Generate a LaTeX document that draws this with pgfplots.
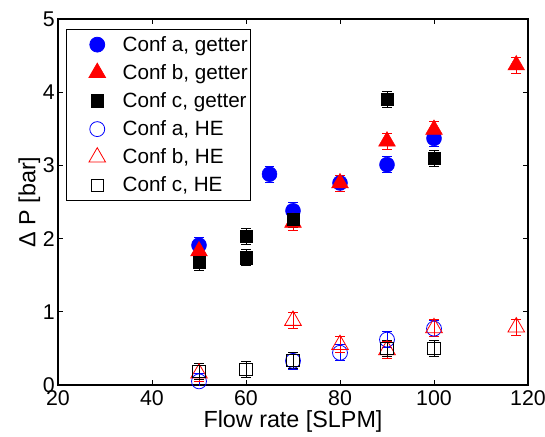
\documentclass[border=0pt]{standalone}
\usepackage{pgfplots}
\pgfplotsset{compat=1.18}
\usepackage{fontspec}
\setmainfont{Liberation Sans}
\begin{document}
\begin{tikzpicture}
\begin{axis}[
  scale only axis,
  width=352.5pt, height=274.5pt,
  xmin=20, xmax=120, ymin=0, ymax=5,
  xtick={20,40,60,80,100,120},
  ytick={0,1,2,3,4,5},
  tick align=inside,
  major tick length=3.5pt,
  axis line style={line width=0.9pt},
  every tick/.style={black, line width=0.6pt},
  /pgf/number format/assume math mode=true,
  tick label style={font=\fontsize{16}{18}\selectfont},
  xticklabel style={yshift=-1pt},
  yticklabel style={xshift=1pt},
  label style={font=\fontsize{17.5}{19}\selectfont},
  xlabel={Flow rate [SLPM]},
  ylabel={Δ P [bar]},
  xlabel style={yshift=1.5pt, inner sep=1pt},
  ylabel style={yshift=-5pt},
  legend style={at={(0.017,0.973)}, anchor=north west, font=\fontsize{15.5}{17}\selectfont,
    draw=black, line width=0.9pt, row sep=4.4pt, inner xsep=0pt, inner ysep=3pt,
    cells={anchor=west}},
  legend cell align=left,
  legend image code/.code={\path[draw=none,fill=none] (0pt,0pt) (40pt,0pt); \draw[#1,line width=0.6pt] plot coordinates {(23pt,0pt)};},
  error bars/y dir=both,
  error bars/y fixed=0.11,
  error bars/error mark options={rotate=90, mark size=3.6pt, line width=0.6pt},
  error bars/error bar style={line width=0.6pt},
]
% Conf a, getter
\addplot[only marks, blue, mark=*, mark size=5.6pt, mark options={fill=blue, draw=blue}] coordinates {
(50,1.91) (65,2.88) (70,2.38) (80,2.76) (90,3.01) (100,3.37)};
\addlegendentry{Conf a, getter}
% Conf b, getter
\addplot[only marks, red, mark=triangle*, mark size=7.2pt, mark options={fill=red, draw=red}] coordinates {
(50,1.83) (70,2.22) (80,2.76) (90,3.33) (100,3.49) (117.5,4.37)};
\addlegendentry{Conf b, getter}
% Conf c, getter
\addplot[only marks, black, mark=square*, mark size=4.6pt, mark options={fill=black, draw=black}] coordinates {
(50,1.68) (60,2.03) (60,1.74) (70,2.26) (90,3.90) (100,3.10)};
\addlegendentry{Conf c, getter}
% Conf a, HE
\addplot[only marks, blue, mark=o, mark size=5.6pt, mark options={draw=blue, line width=0.6pt}] coordinates {
(50,0.05) (70,0.33) (80,0.44) (90,0.62) (100,0.77)};
\addlegendentry{Conf a, HE}
% Conf b, HE
\addplot[only marks, red, mark=triangle, mark size=7.2pt, mark options={draw=red, line width=0.6pt}] coordinates {
(50,0.16) (70,0.88) (80,0.55) (90,0.48) (100,0.78) (117.5,0.79)};
\addlegendentry{Conf b, HE}
% Conf c, HE
\addplot[only marks, black, mark=square, mark size=4.6pt, mark options={draw=black, line width=0.6pt}] coordinates {
(50,0.19) (60,0.21) (70,0.34) (90,0.50) (100,0.50)};
\addlegendentry{Conf c, HE}
\end{axis}
\pgfresetboundingbox
\path[use as bounding box] (-43.5pt,-38.25pt) rectangle (365.25pt,288.75pt);
\end{tikzpicture}
\end{document}
